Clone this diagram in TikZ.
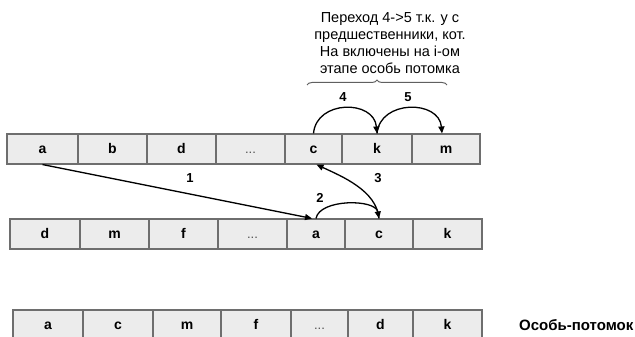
\documentclass[tikz,border=0pt]{standalone}
\usepackage{fontspec}
\setmainfont{Liberation Sans}
\usetikzlibrary{arrows.meta,decorations.pathreplacing}
\definecolor{cellfill}{HTML}{ECECEC}
\definecolor{cellline}{HTML}{6E6E6E}
\definecolor{bracecol}{HTML}{606060}
\definecolor{dotcol}{HTML}{505050}
\begin{document}
\begin{tikzpicture}[x=1pt,y=-1pt,
  cell/.style={draw=cellline,fill=cellfill,line width=1.1pt,inner sep=0pt,minimum height=30pt,text height=8.5pt,text depth=0pt,font=\fontsize{14}{16}\selectfont\bfseries},
  dots/.style={cell,font=\fontsize{13}{16}\selectfont,text=dotcol},
  arr/.style={-{Triangle[length=7pt,width=6pt]},line width=1.3pt,black},
  lbl/.style={font=\fontsize{13}{15}\selectfont\bfseries,inner sep=0pt}]
\useasboundingbox (0,0) rectangle (635,337);
% row 1
\node[cell,minimum width=71pt] (r1a) at (42.5,149) {a};
\node[cell,minimum width=69pt] (r1b) at (112.5,149) {b};
\node[cell,minimum width=69pt] (r1d) at (181.5,149) {d};
\node[dots,minimum width=69pt] (r1dots) at (250.5,149) {...};
\node[cell,minimum width=57pt] (r1c) at (313.5,149) {c};
\node[cell,minimum width=70pt] (r1k) at (377,149) {k};
\node[cell,minimum width=68pt] (r1m) at (446,149) {m};
% row 2
\node[cell,minimum width=70pt] (r2d) at (45,234) {d};
\node[cell,minimum width=69pt] (r2m) at (114.5,234) {m};
\node[cell,minimum width=69pt] (r2f) at (183.5,234) {f};
\node[dots,minimum width=69pt] (r2dots) at (252.5,234) {...};
\node[cell,minimum width=58pt] (r2a) at (316,234) {a};
\node[cell,minimum width=68pt] (r2c) at (379,234) {c};
\node[cell,minimum width=69pt] (r2k) at (447.5,234) {k};
% row 3
\node[cell,minimum width=70pt] (r3a) at (48,325) {a};
\node[cell,minimum width=70pt] (r3c) at (118,325) {c};
\node[cell,minimum width=68pt] (r3m) at (187,325) {m};
\node[cell,minimum width=70pt] (r3f) at (256,325) {f};
\node[dots,minimum width=57pt] (r3dots) at (319.5,325) {...};
\node[cell,minimum width=65pt] (r3d) at (380.5,325) {d};
\node[cell,minimum width=69pt] (r3k) at (447.5,325) {k};
\node[font=\fontsize{15}{17}\selectfont\bfseries,anchor=west,inner sep=0pt] (label3) at (519,325) {Особь-потомок};
% arrows
\draw[arr] (r1a.south) -- ([xshift=-4pt]r2a.north);
\draw[arr] (r2a.north) to[out=80,in=100,distance=20pt] (r2c.north);
\draw[arr] (r2c.north) to[out=95,in=-25,distance=28pt] ([xshift=3pt]r1c.south);
\draw[arr] (r1c.north) to[out=85,in=95,distance=34pt] (r1k.north);
\draw[arr] (r1k.north) to[out=85,in=95,distance=34pt] ([xshift=-4pt]r1m.north);
\node[lbl] (l1) at (190,178) {1};
\node[lbl] (l2) at (320,198) {2};
\node[lbl] (l3) at (378,178) {3};
\node[lbl] (l4) at (343,97) {4};
\node[lbl] (l5) at (408,97) {5};
% brace and note
\coordinate (bl) at (307,85);
\coordinate (br) at (447,85);
\draw[bracecol,line width=1pt,decorate,decoration={brace,amplitude=5pt}] (bl) -- (br);
\node[align=center,inner sep=0pt,font=\fontsize{14.5}{17}\selectfont] (note) at (390,43) {Переход 4->5 т.к. у с\\предшественники, кот.\\На включены на i-ом\\этапе особь потомка};
\end{tikzpicture}
\end{document}
